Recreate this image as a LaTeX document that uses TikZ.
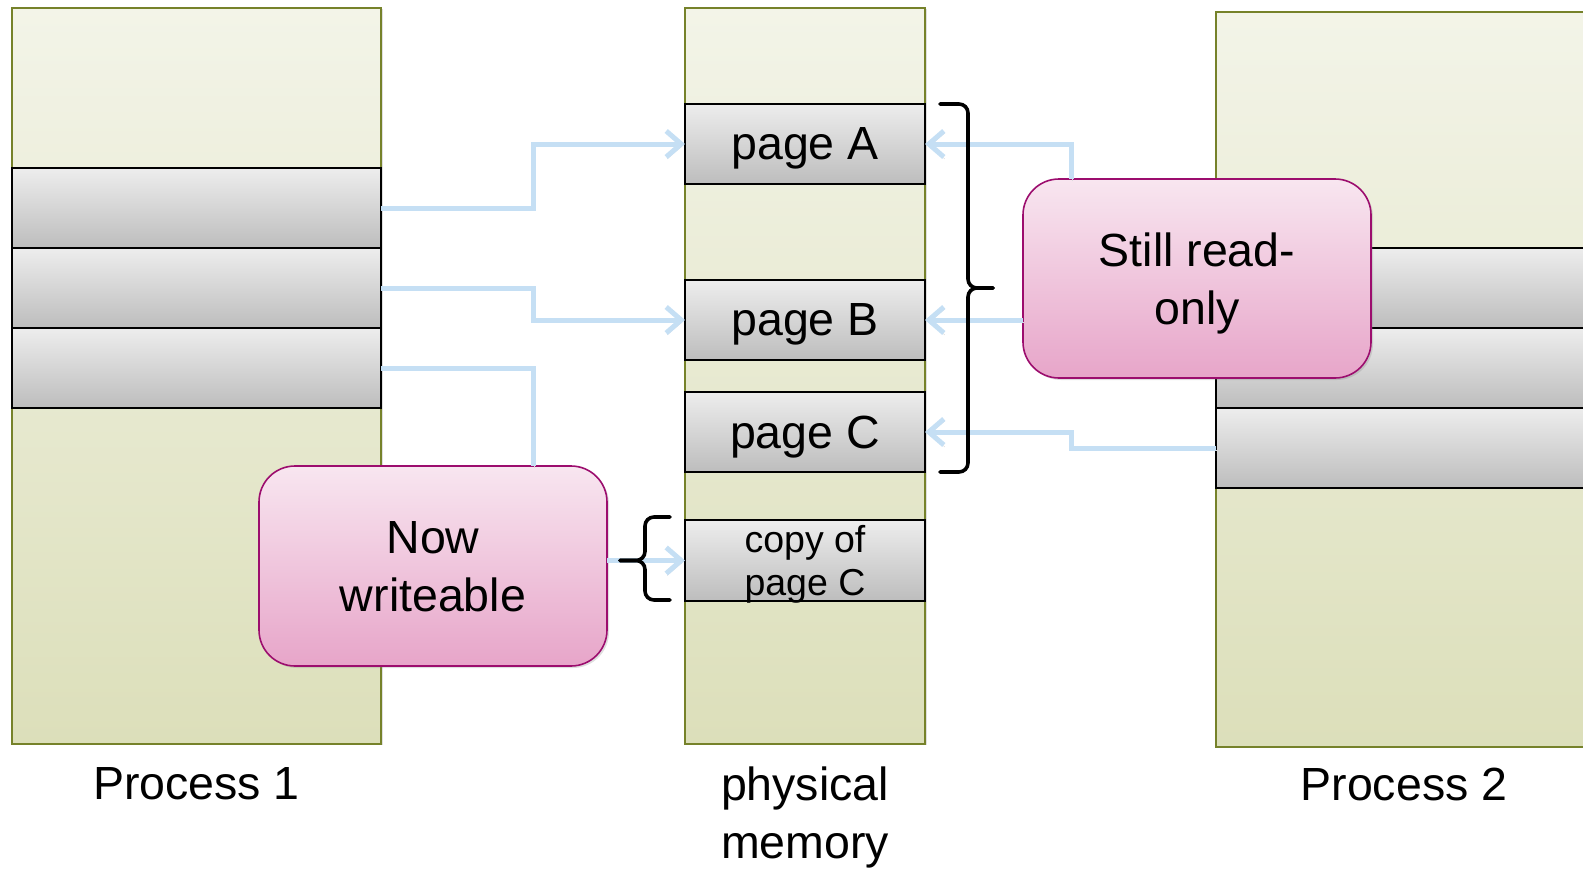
\documentclass[tikz,border=0pt]{standalone}
\usepackage{fontspec}
\setmainfont{Liberation Sans}
\usepackage{tikz}
\usetikzlibrary{positioning, calc, arrows.meta, shadows}
\definecolor{colgreen}{HTML}{DCDFBA}
\definecolor{colgreenlight}{HTML}{F3F4E8}
\definecolor{colborder}{HTML}{76822A}
\definecolor{slottop}{HTML}{EDEDED}
\definecolor{slotbottom}{HTML}{BDBDBD}
\definecolor{pinktop}{HTML}{F8E6F0}
\definecolor{pinkbottom}{HTML}{E7A5C9}
\definecolor{pinkborder}{HTML}{9C0D6E}
\definecolor{flowblue}{HTML}{C5DFF4}
\tikzset{
  column/.style={draw=colborder, line width=1.5, top color=colgreenlight, bottom color=colgreen,
    anchor=north west, drop shadow={shadow xshift=2pt, shadow yshift=-1pt, opacity=0.25}},
  slot/.style={draw=black, line width=1.6, top color=slottop, bottom color=slotbottom,
    anchor=north west, minimum height=80},
  pagebox/.style={minimum width=240, text depth=0pt},
  callout/.style={draw=pinkborder, line width=1.6, top color=pinktop, bottom color=pinkbottom,
    rounded corners=36, align=center, text depth=0pt,
    drop shadow={shadow xshift=2pt, shadow yshift=-2pt, opacity=0.25}},
  coltitle/.style={align=center},
  flowline/.style={draw=flowblue, line width=5,
    preaction={draw=black!14, transform canvas={shift={(1pt,-2pt)}}}},
  flow/.style={flowline, -{Straight Barb[length=15pt, width=26pt]}},
  curly/.style={draw=black, line width=3.6, line cap=round, rounded corners=9},
  every node/.style={inner sep=0, outer sep=0, font=\fontsize{46.5}{58}\selectfont}
}
\begin{document}
\begin{tikzpicture}[x=1pt, y=-1pt]
  \useasboundingbox (0,0) rectangle (1583,870);
  \clip (0,0) rectangle (1583,870);
  \node[column, minimum width=369, minimum height=736] (proc1) at (12,8) {};
  \node[column, minimum width=240, minimum height=736] (phys) at (685,8) {};
  \node[column, minimum width=376, minimum height=735] (proc2) at (1216,12) {};
  \node[coltitle, below=23pt of proc1] (proc1label) {Process 1};
  \node[coltitle, below=23pt of phys] (physlabel) {physical\\memory};
  \node[coltitle, below=21pt of proc2] (proc2label) {Process 2};
  % process 1 pages
  \node[slot, minimum width=369] (p1a) at (12,168) {};
  \node[slot, minimum width=369, below=0 of p1a] (p1b) {};
  \node[slot, minimum width=369, below=0 of p1b] (p1c) {};
  % process 2 pages
  \node[slot, minimum width=376] (p2a) at (1216,248) {};
  \node[slot, minimum width=376, below=0 of p2a] (p2b) {};
  \node[slot, minimum width=376, below=0 of p2b] (p2c) {};
  % physical frames
  \node[slot, pagebox] (pga) at (685,104) {page A};
  \node[slot, pagebox] (pgb) at (685,280) {page B};
  \node[slot, pagebox] (pgc) at (685,392) {page C};
  \node[slot, pagebox, minimum height=81, align=center, font=\fontsize{37.5}{43}\selectfont] (pgcopy) at (685,520) {copy of\\page C};
  \coordinate (jleft) at (533,0);
  \coordinate (jright) at (1071,0);
  \node[callout, minimum width=348, minimum height=200] (nowbox) at (433,566) {Now\\writeable};
  \node[callout, minimum width=348, minimum height=199] (stillbox) at (1197,278.5) {Still read-\\only};
  \draw[flow] (p1a.east) -- (p1a.east -| jleft) |- (pga.west);
  \draw[flow] (p1b.east) -- (p1b.east -| jleft) |- (pgb.west);
  \draw[flowline] (p1c.east) -- (p1c.east -| jleft) -- (jleft |- nowbox.north);
  \draw[flow] (nowbox.east |- pgcopy.west) -- (pgcopy.west);
  \draw[flow] (stillbox.north -| jright) |- (pga.east);
  \draw[flow] (stillbox.west |- pgb.east) -- (pgb.east);
  \draw[flow] (p2c.west) -- (p2c.west -| jright) |- (pgc.east);
  % braces
  \coordinate (bracemid) at ($(pga.north east)!.5!(pgc.south east)+(43,0)$);
  \coordinate (leftmid) at ($(pgcopy.west)+(-40,0)$);
  \draw[curly] ($(pga.north east)+(15,0)$) -| (bracemid) -- ++(25,0);
  \draw[curly] ($(pgc.south east)+(15,0)$) -| (bracemid) -- ++(25,0);
  \draw[curly] ($(pgcopy.north west)+(-15,-3)$) -| (leftmid) -- ++(-25,0);
  \draw[curly] ($(pgcopy.south west)+(-15,-1)$) -| (leftmid) -- ++(-25,0);
\end{tikzpicture}
\end{document}
